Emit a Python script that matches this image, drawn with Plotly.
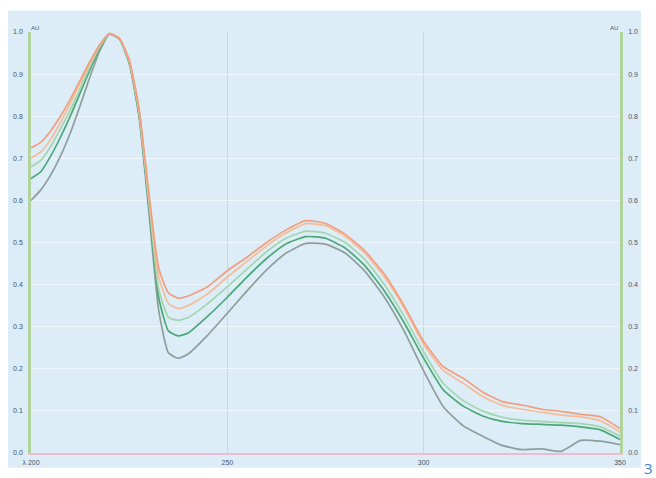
import plotly.graph_objects as go

wavelength = [200, 202.5, 205, 207.5, 210, 212.5, 215, 217.5, 220, 222.5, 225, 227.5, 230,
              232.5, 235, 237.5, 240, 245, 250, 255, 260, 265, 270, 275, 280, 285, 290,
              295, 300, 305, 310, 315, 320, 325, 330, 335, 340, 345, 350]

abs_orange = [0.725, 0.738, 0.765, 0.80, 0.84, 0.885, 0.93, 0.97, 0.996, 0.985, 0.935, 0.82, 0.62,
              0.44, 0.38, 0.368, 0.373, 0.395, 0.433, 0.465, 0.50, 0.53, 0.552, 0.545, 0.52, 0.48, 0.425,
              0.35, 0.265, 0.205, 0.178, 0.145, 0.122, 0.114, 0.104, 0.099, 0.092, 0.086, 0.058]
abs_peach = [0.70, 0.715, 0.745, 0.785, 0.83, 0.878, 0.925, 0.968, 0.996, 0.985, 0.932, 0.815, 0.61,
             0.42, 0.355, 0.343, 0.35, 0.378, 0.418, 0.455, 0.492, 0.523, 0.545, 0.54, 0.515, 0.475, 0.418,
             0.345, 0.258, 0.196, 0.166, 0.134, 0.113, 0.104, 0.097, 0.09, 0.086, 0.077, 0.05]
abs_lightgreen = [0.68, 0.695, 0.728, 0.77, 0.815, 0.865, 0.918, 0.965, 0.996, 0.984, 0.93, 0.81, 0.60,
                  0.39, 0.322, 0.315, 0.322, 0.355, 0.395, 0.437, 0.478, 0.51, 0.527, 0.522, 0.50, 0.46, 0.40,
                  0.325, 0.24, 0.165, 0.125, 0.10, 0.085, 0.078, 0.075, 0.072, 0.07, 0.062, 0.04]
abs_green = [0.652, 0.668, 0.705, 0.75, 0.80, 0.855, 0.91, 0.962, 0.996, 0.984, 0.928, 0.805, 0.59,
             0.37, 0.29, 0.278, 0.285, 0.325, 0.37, 0.418, 0.462, 0.497, 0.514, 0.51, 0.487, 0.445, 0.385,
             0.31, 0.225, 0.15, 0.112, 0.088, 0.075, 0.07, 0.068, 0.066, 0.062, 0.055, 0.032]
abs_grey = [0.60, 0.625, 0.66, 0.705, 0.76, 0.825, 0.893, 0.955, 0.995, 0.983, 0.925, 0.80, 0.575,
            0.34, 0.238, 0.225, 0.235, 0.28, 0.332, 0.385, 0.435, 0.475, 0.498, 0.496, 0.475, 0.432, 0.37,
            0.29, 0.195, 0.11, 0.065, 0.04, 0.018, 0.008, 0.01, 0.004, 0.03, 0.028, 0.02]

series = [
    ("grey", abs_grey, "#8e9e9a"),
    ("green", abs_green, "#4aa876"),
    ("lightgreen", abs_lightgreen, "#a2d6ae"),
    ("peach", abs_peach, "#f6bc98"),
    ("orange", abs_orange, "#f29e7e"),
]

y_ticks = [0.0, 0.1, 0.2, 0.3, 0.4, 0.5, 0.6, 0.7, 0.8, 0.9, 1.0]
y_ticktext = ["0.0", "0.1", "0.2", "0.3", "0.4", "0.5", "0.6", "0.7", "0.8", "0.9", "1.0"]
x_ticks = [200, 250, 300, 350]
x_ticktext = ["λ 200", "250", "300", "350"]

BG = "#dcedf8"
fig = go.Figure()
for name, vals, col in series:
    fig.add_trace(go.Scatter(x=wavelength, y=vals, mode="lines", name=name,
                             line=dict(color=col, width=1.7, shape="spline", smoothing=0.5),
                             showlegend=False))
# invisible trace for right axis
fig.add_trace(go.Scatter(x=[200, 350], y=[0, 1], yaxis="y2", mode="lines",
                         line=dict(width=0), showlegend=False, hoverinfo="skip"))

tickfont = dict(family="Liberation Sans", size=7, color="#46566a")
fig.update_layout(
    width=656, height=478,
    margin=dict(l=31, r=36, t=32, b=17),
    paper_bgcolor="white",
    plot_bgcolor="rgba(0,0,0,0)",
    xaxis=dict(range=[200, 350], tickvals=x_ticks, ticktext=x_ticktext, tickfont=tickfont,
               showgrid=True, gridcolor="#c9d9e3", gridwidth=1.2, zeroline=False,
               showline=True, linecolor="#ecbccc", linewidth=1.5, ticks="", ticklabelstandoff=2),
    yaxis=dict(range=[0, 1], tickvals=y_ticks, ticktext=y_ticktext, tickfont=tickfont,
               showgrid=True, gridcolor="#eef6fb", gridwidth=1, zeroline=False,
               showline=True, linecolor="#b2d29e", linewidth=2.5, ticks="", ticklabelstandoff=4),
    yaxis2=dict(range=[0, 1], tickvals=y_ticks, ticktext=y_ticktext, tickfont=tickfont,
                overlaying="y", side="right", showgrid=False, zeroline=False,
                showline=True, linecolor="#b2d29e", linewidth=2.5, ticks="", ticklabelstandoff=4),
    shapes=[dict(type="rect", xref="paper", yref="paper", x0=-0.039, x1=1.0357,
                 y0=-0.035, y1=1.0513, fillcolor=BG, line=dict(width=0), layer="below")],
    annotations=[
        dict(text="AU", xref="paper", yref="paper", x=-0.003, y=1.022, showarrow=False,
             font=dict(family="Liberation Sans", size=6, color="#46566a")),
        dict(text="AU", xref="paper", yref="paper", x=1.0, y=1.022, showarrow=False,
             font=dict(family="Liberation Sans", size=6, color="#46566a")),
        dict(text="3", xref="paper", yref="paper", x=1.049, y=-0.036, showarrow=False,
             xanchor="center", yanchor="middle",
             font=dict(family="Open Sans", size=15, color="#2f86d6")),
    ],
)
fig.write_html("out.html")
